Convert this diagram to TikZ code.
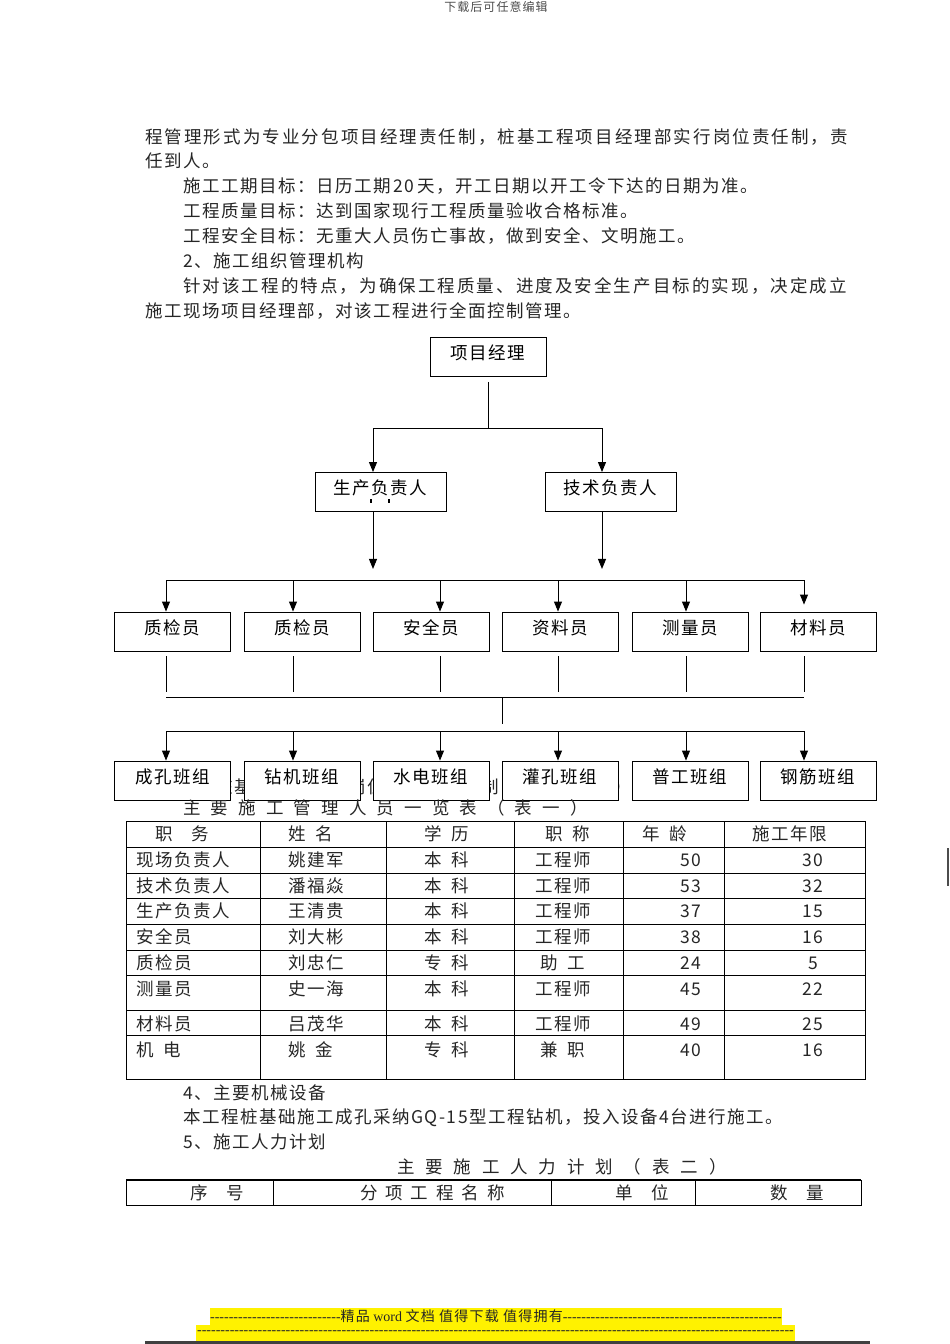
\documentclass[tikz,border=0pt]{standalone}
\usepackage{fontspec}
\setmainfont{Noto Sans CJK SC}[LetterSpace=8.6]
\newfontfamily\footfont{Liberation Serif}[Ligatures=TeXOff]
\usetikzlibrary{arrows.meta, positioning}

\newcommand\bodyfont{\fontsize{17.5}{21}\selectfont}
\newcommand\kgap{\hspace{10pt}}
\newcommand\wgap{\hspace{19pt}}
\newcommand\hy[1]{{\footfont\foreach \k in {1,...,#1}{-}}}

\begin{document}
\begin{tikzpicture}[x=1pt, y=-1pt,
    box/.style={draw, fill=white, line width=0.9pt, minimum width=116pt, minimum height=39pt, inner sep=0pt,
        text height=13pt, text depth=8pt, font=\bodyfont},
    wide box/.style={box, minimum width=131pt},
    arr/.style={-{Triangle[length=10pt, width=8pt]}, line width=0.9pt},
    txt/.style={inner sep=0pt, anchor=west, text=black!85, font=\bodyfont},
    full/.style={txt, font=\bodyfont\addfontfeatures{LetterSpace=11.9}},
    cell/.style={inner sep=0pt, text=black!85, font=\bodyfont},
    spaced/.style={inner sep=0pt, anchor=west, text=black!85, font=\bodyfont\addfontfeatures{LetterSpace=#1}},
    rule/.style={line width=0.8pt}
]
    \useasboundingbox (0,0) rectangle (950,1344);

    % 页眉
    \node[inner sep=0pt, text=black!70, font=\fontsize{12}{14}\selectfont] (hdr) at (496,7) {下载后可任意编辑};

    % 正文
    \node[full] (p1) at (145,137) {程管理形式为专业分包项目经理责任制，桩基工程项目经理部实行岗位责任制，责};
    \node[txt] (p2) at (145,161) {任到人。};
    \node[txt] (p3) at (183,186) {施工工期目标：日历工期\,20\,天，开工日期以开工令下达的日期为准。};
    \node[txt] (p4) at (183,211) {工程质量目标：达到国家现行工程质量验收合格标准。};
    \node[txt] (p5) at (183,236) {工程安全目标：无重大人员伤亡事故，做到安全、文明施工。};
    \node[txt] (p6) at (183,261) {2、施工组织管理机构};
    \node[full] (p7) at (183,286) {针对该工程的特点，为确保工程质量、进度及安全生产目标的实现，决定成立};
    \node[txt] (p8) at (145,311) {施工现场项目经理部，对该工程进行全面控制管理。};

    % 被方框遮住的一行
    \node[txt] (p9) at (185,787) {3、桩基项目部主要岗位人员及其编制（详见以下表）};

    % 组织机构
    \node[box] (pm) at (488,357) {项目经理};
    \node[wide box] (prod) at (380.5,492) {生产负责人};
    \node[wide box] (tech) at (610.5,492) {技术负责人};
    \draw[line width=1.6pt] (371,499) -- (371,503) (389,499) -- (389,503);

    \coordinate (split) at (488,428);
    \coordinate (la) at (373,428);
    \coordinate (ra) at (602,428);
    \draw[line width=0.9pt, shorten <=5pt] (pm.south) -- (split);
    \draw[line width=0.9pt] (la) -- (ra);
    \draw[arr] (la) -- (la |- prod.north);
    \draw[arr] (ra) -- (ra |- tech.north);
    \draw[arr] (prod.south -| la) -- ++(0,57);
    \draw[arr] (tech.south -| ra) -- ++(0,57);

    % 管理人员
    \foreach \n/\x/\ax/\t in {qa/172.5/166/质检员, qb/302/293/质检员, safe/431/440/安全员,
                             data/560/558/资料员, survey/690/686/测量员, mat/818/804/材料员} {
        \node[box] (\n) at (\x,631.5) {\t};
        \coordinate (top\n) at (\ax,580);
        \coordinate (bot\n) at (\ax,697);
        \draw[line width=0.9pt, shorten <=5pt, shorten >=5pt] (\n.south -| bot\n) -- (bot\n);
    }
    \foreach \n in {qa, qb, safe, data, survey}
        \draw[arr] (top\n) -- (top\n |- \n.north);
    \draw[arr, shorten >=7pt] (topmat) -- (topmat |- mat.north);
    \draw[line width=0.9pt] (topqa) -- (topmat);
    \draw[line width=0.9pt] (botqa) -- (botmat);
    \coordinate (mid) at (502,697);
    \draw[line width=0.9pt] (mid) -- ++(0,27);

    % 班组
    \foreach \n/\x/\ax/\t in {hole/172.5/166/成孔班组, rig/302/293/钻机班组, power/431/440/水电班组,
                             grout/560/558/灌孔班组, labor/690/686/普工班组, rebar/818/804/钢筋班组} {
        \node[box] (\n) at (\x,780.5) {\t};
        \coordinate (tm\n) at (\ax,731);
        \draw[arr] (tm\n) -- (tm\n |- \n.north);
    }
    \draw[line width=0.9pt] (tmhole) -- (tmrebar);

    % 表一
    \node[spaced=58] (t1) at (183,808) {主要施工管理人员一览表（表一）};
    \draw[rule] (126,821) rectangle (865,1079);
    \foreach \y in {847,873,898.5,924,950,975.5,1010.5,1035.5}
        \draw[rule] (126,\y) -- (865,\y);
    \foreach \x in {260,386,514,623,724}
        \draw[rule] (\x,821) -- (\x,1079);
    \node[cell, anchor=west] (h1) at (155,834) {职\wgap 务};
    \node[cell, anchor=west] (h2) at (288,834) {姓\kgap 名};
    \node[cell, anchor=west] (h3) at (424,834) {学\kgap 历};
    \node[cell, anchor=west] (h4) at (545,834) {职\kgap 称};
    \node[cell, anchor=west] (h5) at (642,834) {年\kgap 龄};
    \node[cell, anchor=west] (h6) at (752,834) {施工年限};
    \foreach \y/\a/\b/\c/\d/\e/\f [count=\i] in {
        860/现场负责人/姚建军/本\kgap 科/工程师/50/30,
        886/技术负责人/潘福焱/本\kgap 科/工程师/53/32,
        911/生产负责人/王清贵/本\kgap 科/工程师/37/15,
        937/安全员/刘大彬/本\kgap 科/工程师/38/16,
        963/质检员/刘忠仁/专\kgap 科/助\kgap 工/24/5,
        989/测量员/史一海/本\kgap 科/工程师/45/22,
        1024/材料员/吕茂华/本\kgap 科/工程师/49/25,
        1050/机\kgap 电/姚\kgap 金/专\kgap 科/兼\kgap 职/40/16} {
        \node[cell, anchor=west] (r\i-a) at (136,\y) {\a};
        \node[cell, anchor=west] (r\i-b) at (288,\y) {\b};
        \node[cell, anchor=west] (r\i-c) at (424,\y) {\c};
        \node[cell] (r\i-d) at (563,\y) {\d};
        \node[cell] (r\i-e) at (691,\y) {\e};
        \node[cell] (r\i-f) at (813,\y) {\f};
    }

    % 后续正文
    \node[txt] (q1) at (183,1093) {4、主要机械设备};
    \node[txt] (q2) at (183,1118) {本工程桩基础施工成孔采纳GQ-15型工程钻机，投入设备4台进行施工。};
    \node[txt] (q3) at (183,1142) {5、施工人力计划};

    % 表二
    \node[spaced=62] (t2) at (397,1167) {主要施工人力计划（表二）};
    \draw[rule] (126,1180) rectangle (861,1205);
    \draw[line width=1.3pt] (126,1180) -- (861,1180);
    \foreach \x in {273,551,695}
        \draw[rule] (\x,1180) -- (\x,1205);
    \node[cell, anchor=west] (s1) at (190,1192.5) {序\wgap 号};
    \node[spaced=45] (s2) at (360,1192.5) {分项工程名称};
    \node[cell, anchor=west] (s3) at (615,1192.5) {单\wgap 位};
    \node[cell, anchor=west] (s4) at (770,1192.5) {数\wgap 量};

    % 右侧标记
    \draw[line width=2pt, black!70] (948,848) -- (948,886);

    % 页脚
    \fill[yellow] (210,1308) rectangle (782,1325);
    \fill[yellow] (196,1325) rectangle (795,1341);
    \node[inner sep=0pt, font=\fontsize{14}{15}\selectfont, text=black!85] (ad) at (496,1316)
        {\hy{28}精品{\footfont\ word }文档 值得下载 值得拥有\hy{47}};
    \node[inner sep=0pt, font=\fontsize{14}{15}\selectfont, text=black!85] (ad2) at (495.5,1333) {\hy{128}};
    \draw[line width=2.5pt, black!75] (145,1342.5) -- (870,1342.5);
\end{tikzpicture}
\end{document}
